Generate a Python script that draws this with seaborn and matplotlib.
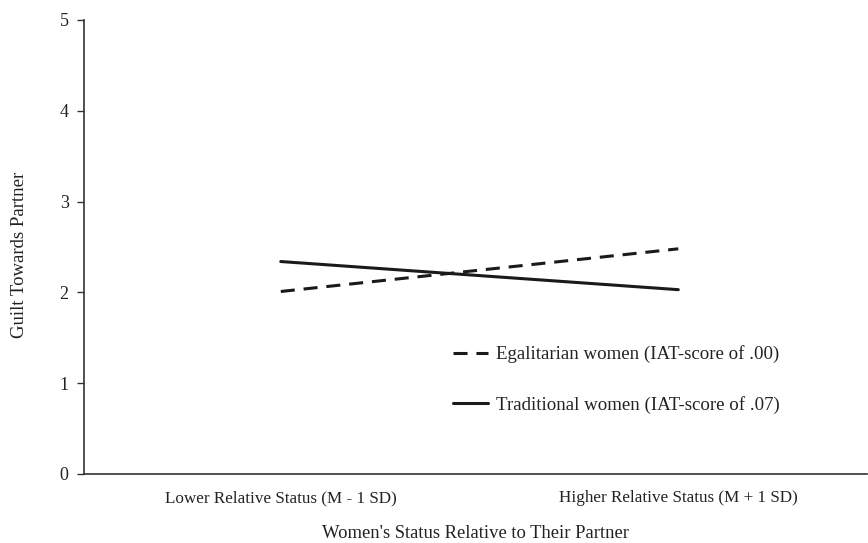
import matplotlib
matplotlib.use("Agg")
import matplotlib.pyplot as plt
import seaborn as sns
import pandas as pd
from matplotlib.lines import Line2D

categories = ["Lower Relative Status (M - 1 SD)", "Higher Relative Status (M + 1 SD)"]
egalitarian = [2.01, 2.48]
traditional = [2.34, 2.03]
series_names = ["Egalitarian women (IAT-score of .00)", "Traditional women (IAT-score of .07)"]
y_ticks = [0, 1, 2, 3, 4, 5]

df = pd.DataFrame({
    "x": [0, 1, 0, 1],
    "cat": categories * 2,
    "y": egalitarian + traditional,
    "group": [series_names[0]] * 2 + [series_names[1]] * 2,
})

sns.set_theme(style="white")
plt.rcParams["font.family"] = ["Liberation Serif", "DejaVu Serif"]

DASH = (4.6, 2.9)
LW = 2.2
INK = "#1a1a1a"

fig = plt.figure(figsize=(8.68, 5.43), dpi=100)
ax = fig.add_axes([84/868, 1-474/543, 1-84/868 - 0.001, (474-20)/543])

sns.lineplot(data=df, x="x", y="y", style="group", hue="group",
             palette=[INK, INK],
             dashes={series_names[0]: DASH, series_names[1]: ""},
             linewidth=LW, ax=ax, legend=False)

ax.set_xlim(-0.495, 1.475)
ax.set_ylim(0, 5)
ax.set_yticks(y_ticks)
ax.set_yticklabels([str(t) for t in y_ticks], fontsize=13, color="#222222")
ax.set_xticks([0, 1])
ax.set_xticklabels(categories, fontsize=12.3, color="#222222")
ax.tick_params(axis="y", direction="out", length=5, width=1, color="#333333", left=True, pad=6)
ax.tick_params(axis="x", length=0, pad=11.5)
for s in ["top", "right"]:
    ax.spines[s].set_visible(False)
for s in ["left", "bottom"]:
    ax.spines[s].set_color("#333333")
    ax.spines[s].set_linewidth(1.2)

ax.set_xlabel("Women's Status Relative to Their Partner", fontsize=13.4, color="#222222")
ax.xaxis.set_label_coords(0.5, (474-534)/454, transform=ax.transAxes)
ax.xaxis.label.set_va("center")
ax.set_ylabel("Guilt Towards Partner", fontsize=13.5, color="#222222")
ax.yaxis.set_label_coords((19-84)/784, (474-255)/454, transform=ax.transAxes)
ax.yaxis.label.set_va("center")

handles = [Line2D([], [], color=INK, lw=LW, dashes=DASH),
           Line2D([], [], color=INK, lw=LW)]
ax.legend(handles, series_names, loc="upper left",
          bbox_to_anchor=((453-84)/784, (474-345.5)/454),
          frameon=False, fontsize=13.6, handlelength=1.85, handletextpad=0.45,
          labelspacing=1.72, borderpad=0, borderaxespad=0, labelcolor="#222222")

fig.savefig("out.png", dpi=100)
